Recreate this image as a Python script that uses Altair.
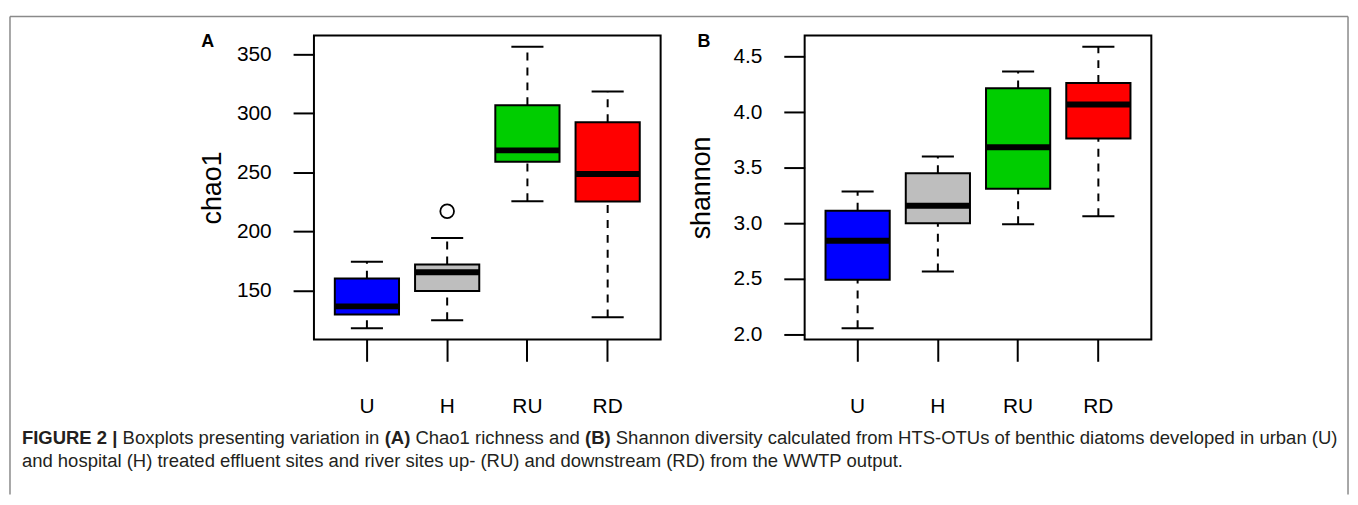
import altair as alt
import pandas as pd

# ---------------- data ----------------
sites = ["U", "H", "RU", "RD"]
colors = ["#0000FF", "#BEBEBE", "#00CD00", "#FF0000"]

chao_lo = [118.1, 124.8, 225.6, 127.3]
chao_q1 = [129.8, 149.7, 259.0, 225.4]
chao_med = [136.6, 165.4, 268.7, 248.6]
chao_q3 = [160.1, 172.1, 306.9, 292.6]
chao_hi = [174.4, 194.5, 356.5, 318.6]
chao_out_site = ["H"]
chao_out_val = [217.2]
chao_ticks = [150, 200, 250, 300, 350]

sh_lo = [2.054, 2.565, 2.991, 3.062]
sh_q1 = [2.491, 3.000, 3.309, 3.762]
sh_med = [2.842, 3.157, 3.684, 4.068]
sh_q3 = [3.112, 3.449, 4.214, 4.262]
sh_hi = [3.286, 3.601, 4.366, 4.589]
sh_ticks = [2.0, 2.5, 3.0, 3.5, 4.0, 4.5]

caption1 = [
    ("FIGURE 2 |", True),
    ("Boxplots presenting variation in", False),
    ("(A)", True),
    ("Chao1 richness and", False),
    ("(B)", True),
    ("Shannon diversity calculated from HTS-OTUs of benthic diatoms developed in urban (U)", False),
]
caption2 = "and hospital (H) treated effluent sites and river sites up- (RU) and downstream (RD) from the WWTP output."

FONT = "Liberation Sans, Arial, Helvetica, sans-serif"

# ---------------- text metrics (Helvetica/Arial AFM widths) ----------------
REG = dict(zip("abcdefghijklmnopqrstuvwxyz",
               [556, 556, 500, 556, 556, 278, 556, 556, 222, 222, 500, 222, 833,
                556, 556, 556, 556, 333, 500, 278, 556, 500, 722, 500, 500, 500]))
REG.update(dict(zip("ABCDEFGHIJKLMNOPQRSTUVWXYZ",
                    [667, 667, 722, 722, 667, 611, 778, 722, 278, 500, 667, 556, 833,
                     722, 778, 667, 778, 722, 667, 611, 722, 667, 944, 667, 667, 611])))
REG.update({" ": 278, "(": 333, ")": 333, "-": 333, ".": 278, "|": 260,
            "0": 556, "1": 556, "2": 556})
BOLD = {" ": 278, "(": 333, ")": 333, "|": 280, "2": 556, "A": 722, "B": 722,
        "E": 667, "F": 611, "G": 778, "I": 278, "R": 722, "U": 722}


def em_width(s, bold):
    table = BOLD if bold else REG
    return sum(table.get(c, 556) for c in s) / 1000.0


# ---------------- layout ----------------
OX, OY = 314, 32          # page position of panel A plot area
W, H = 349, 306
CAP_X0, CAP_X1 = 20, 1345
CAP_Y1, CAP_Y2 = 437, 460

total_em = sum(em_width(t, b) for t, b in caption1) + 0.278 * (len(caption1) - 1)
cap_size = (CAP_X1 - CAP_X0) / total_em

one = pd.DataFrame({"k": [0]})


def deco_text(txt, px, py, size, bold=False, color="#231F20", align="left"):
    return alt.Chart(one).mark_text(
        text=txt, font=FONT, fontSize=size, fontWeight="bold" if bold else "normal",
        align=align, baseline="middle", color=color
    ).encode(x=alt.value(px), y=alt.value(py))


def deco_rule(x1, y1, x2, y2):
    return alt.Chart(one).mark_rule(color="#8a8a8a", strokeWidth=1.5).encode(
        x=alt.value(x1), y=alt.value(y1), x2=alt.value(x2), y2=alt.value(y2))


extras = []
# outer figure frame (top, left, right)
fl, ft, fr, fb = 8 - OX, 13 - OY, 1355 - OX, 494 - OY
extras += [deco_rule(fl, ft, fr, ft), deco_rule(fl, ft, fl, fb), deco_rule(fr, ft, fr, fb)]
# caption
cx = CAP_X0
for t, b in caption1:
    extras.append(deco_text(t, cx - OX, CAP_Y1 - OY, cap_size, bold=b))
    cx += (em_width(t, b) + 0.278) * cap_size
extras.append(deco_text(caption2, CAP_X0 - OX, CAP_Y2 - OY, cap_size))


def panel(lo, q1, med, q3, hi, out_site, out_val, domain, ticks, fmt, ytitle,
          letter, title_dx, letter_dx, more=()):
    df = pd.DataFrame({"site": sites, "lo": lo, "q1": q1, "med": med, "q3": q3, "hi": hi})
    xenc = alt.X("site:N",
                 scale=alt.Scale(domain=sites, paddingInner=0.2, paddingOuter=0.26),
                 axis=alt.Axis(labelFontSize=21, labelPadding=35, tickSize=22, tickWidth=2,
                               tickColor="black", domain=False, labelAngle=0, title=None,
                               labelColor="black", labelFont=FONT))
    yax = alt.Axis(values=ticks, format=fmt, labelFontSize=21, labelPadding=22, tickSize=21,
                   tickWidth=2, tickColor="black", domain=False, grid=False, title=ytitle,
                   titleFontSize=27, titleFontWeight="normal", titleX=title_dx, titleY=H / 2,
                   titleAngle=270, titleAlign="center", titleBaseline="middle",
                   labelColor="black", titleColor="black", labelFont=FONT, titleFont=FONT)
    ysc = alt.Scale(domain=domain, nice=False, zero=False)

    def Y(f):
        return alt.Y(f + ":Q", scale=ysc, axis=yax)

    base = alt.Chart(df)
    dash = dict(color="black", strokeWidth=2, strokeDash=[8, 7])
    up = base.mark_rule(**dash).encode(x=xenc, y=Y("q3"), y2="hi:Q")
    dn = base.mark_rule(**dash).encode(x=xenc, y=Y("lo"), y2="q1:Q")
    cap_hi = base.mark_tick(color="black", size=32.3, thickness=2, orient="horizontal",
                            opacity=1).encode(x=xenc, y=Y("hi"))
    cap_lo = base.mark_tick(color="black", size=32.3, thickness=2, orient="horizontal",
                            opacity=1).encode(x=xenc, y=Y("lo"))
    box = base.mark_bar(stroke="black", strokeWidth=2, opacity=1).encode(
        x=xenc, y=Y("q1"), y2="q3:Q",
        color=alt.Color("site:N", scale=alt.Scale(domain=sites, range=colors), legend=None))
    md = base.mark_tick(color="black", size=64.6, thickness=6, orient="horizontal",
                        opacity=1).encode(x=xenc, y=Y("med"))
    layers = [up, dn, cap_hi, cap_lo, box, md]
    if out_site:
        odf = pd.DataFrame({"site": out_site, "val": out_val})
        layers.append(alt.Chart(odf).mark_point(shape="circle", filled=False, color="black",
                                                size=190, strokeWidth=1.8, opacity=1)
                      .encode(x=xenc, y=Y("val")))
    layers.append(deco_text(letter, letter_dx, 6.5, 18, bold=True, color="black", align="center"))
    layers += list(more)
    return alt.layer(*layers).properties(width=W, height=H)


pA = panel(chao_lo, chao_q1, chao_med, chao_q3, chao_hi, chao_out_site, chao_out_val,
           [108.6, 366.0], chao_ticks, "d", "chao1", "A", 212 - 314, 207 - 314, extras)
pB = panel(sh_lo, sh_q1, sh_med, sh_q3, sh_hi, [], [],
           [1.953, 4.690], sh_ticks, ".1f", "shannon", "B", 704 - 808, 706.5 - 808)

chart = alt.hconcat(pA, pB, spacing=145, bounds="flush").properties(
    padding={"left": 0, "top": 5, "right": 0, "bottom": 0},
    background="white",
).configure_view(stroke="black", strokeWidth=2)

chart.save("out.html", embed_options={"renderer": "svg", "actions": False})
